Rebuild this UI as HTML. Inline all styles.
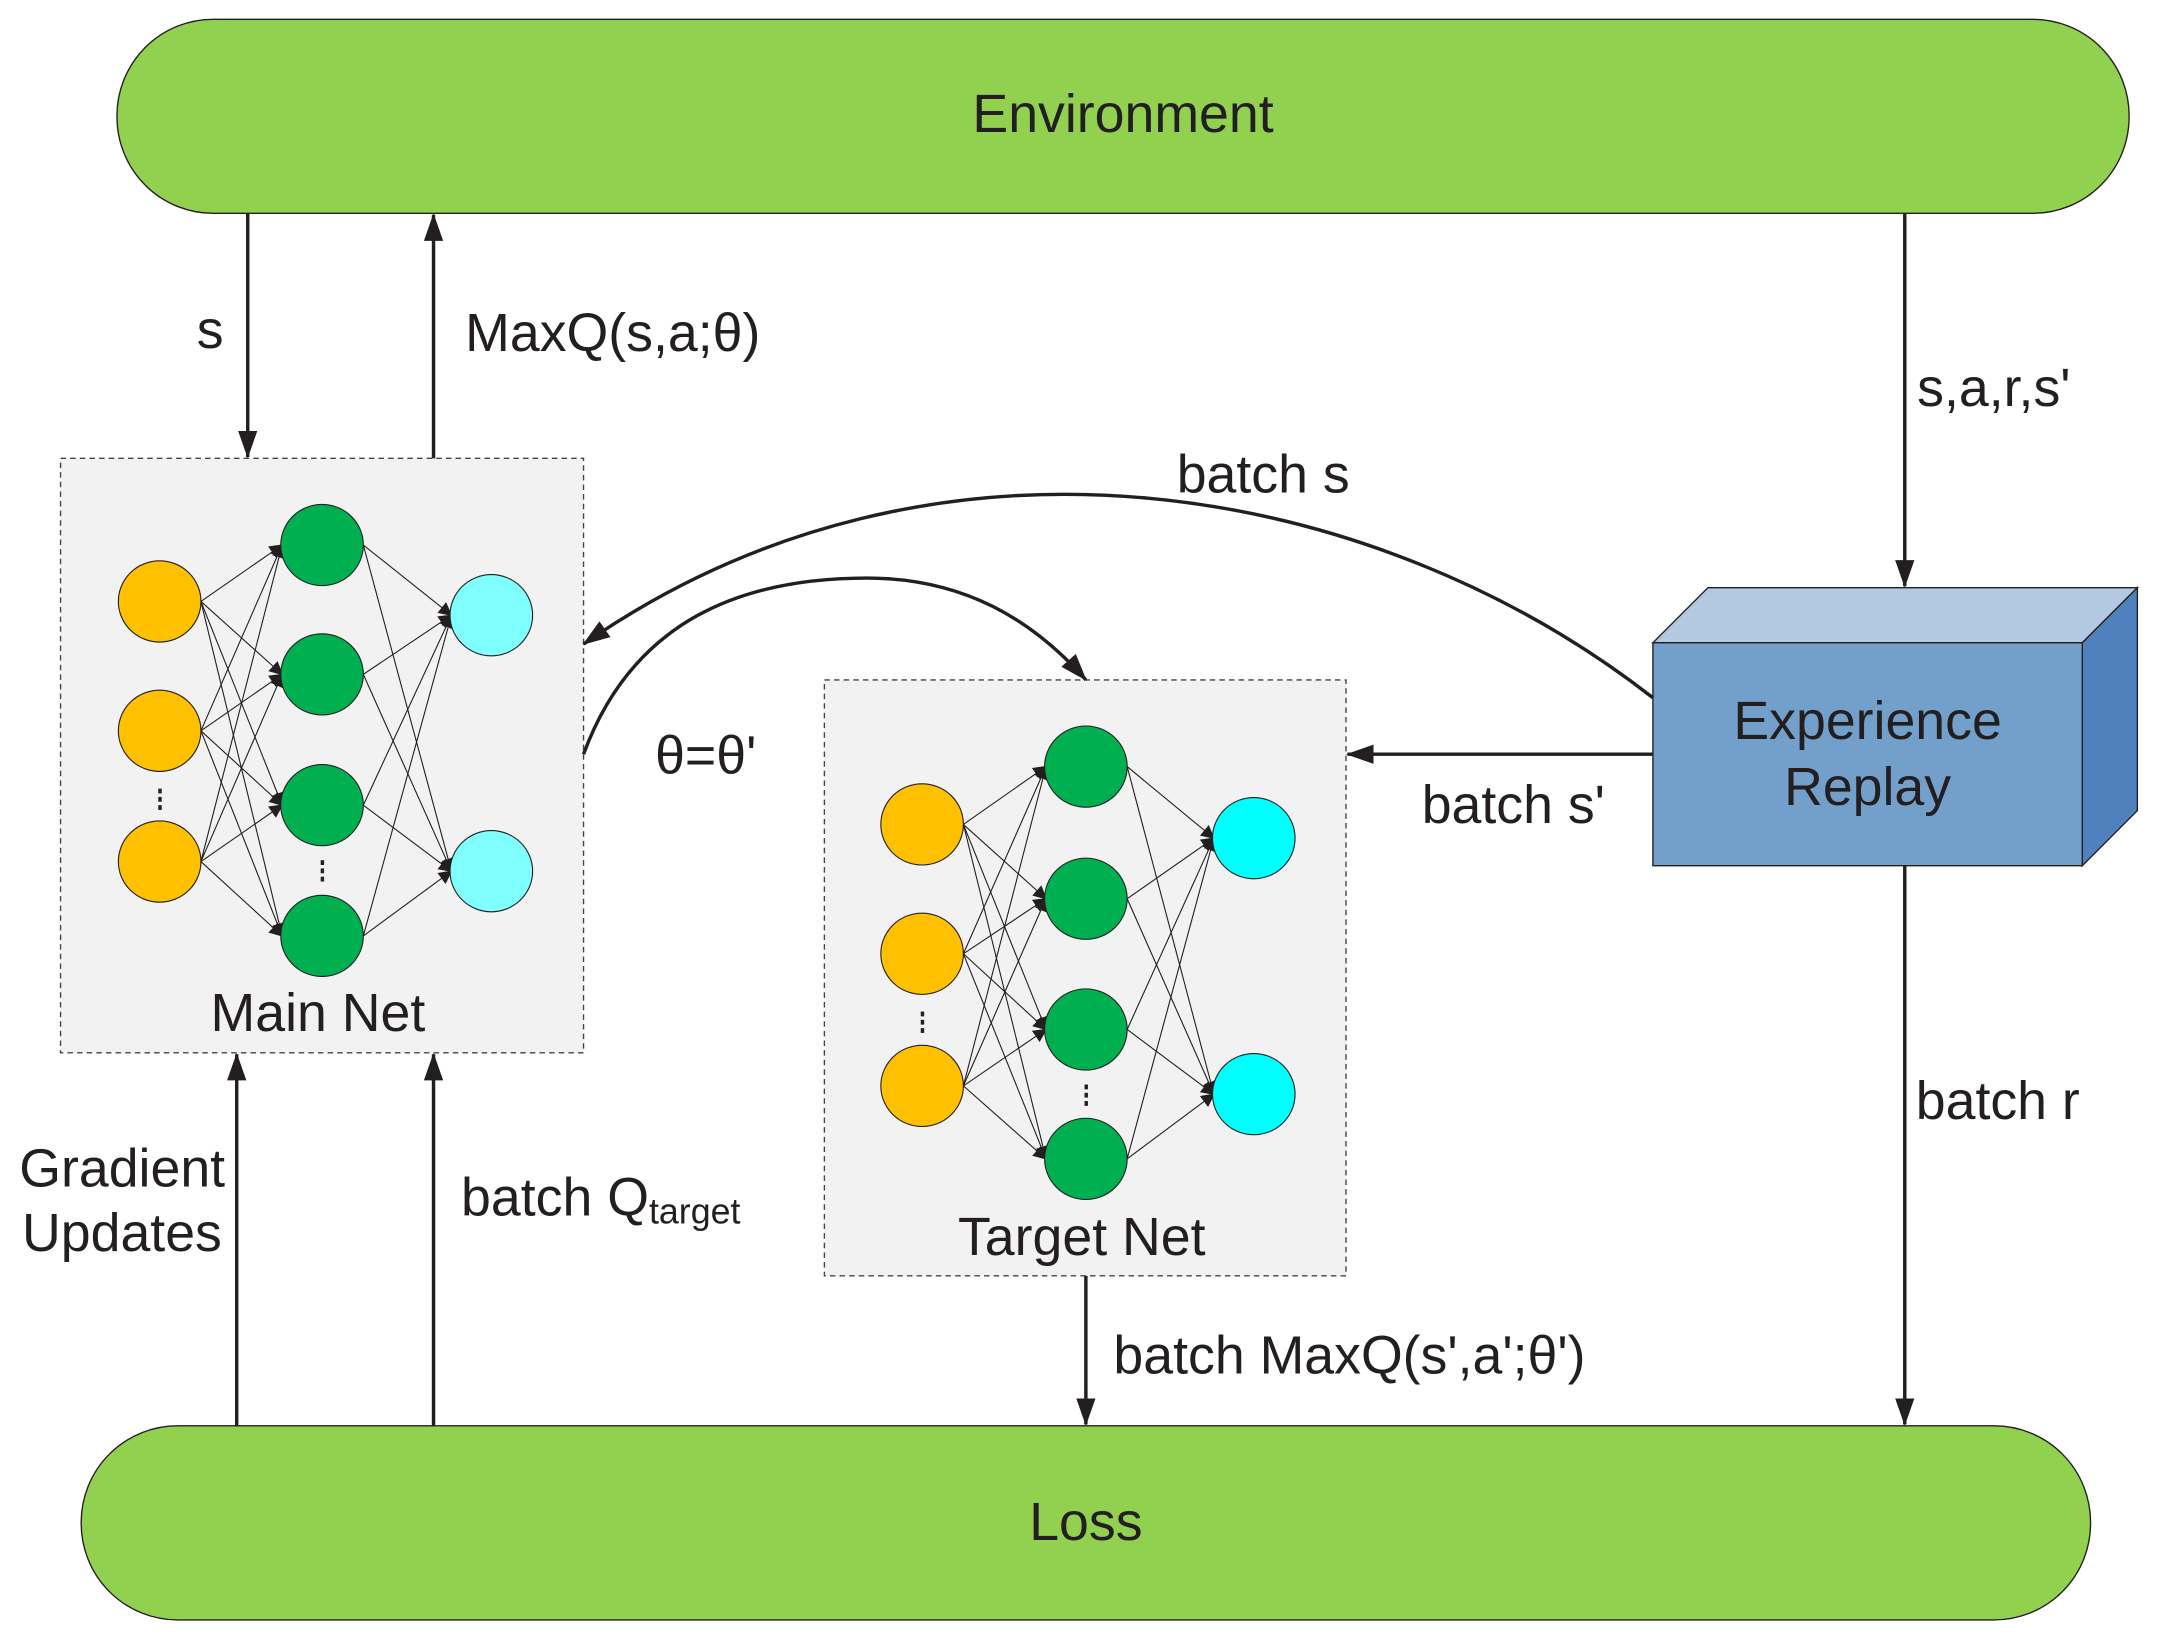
<!DOCTYPE html>
<html><head><meta charset="utf-8"><style>html,body{margin:0;padding:0;background:#fff}svg{display:block}text{font-family:"Liberation Sans",sans-serif;fill:#231f20}</style></head><body>
<svg width="2158" height="1640" viewBox="0 0 1568 1191.6" xmlns="http://www.w3.org/2000/svg">
<defs>
<marker id="a" markerWidth="10" markerHeight="10" refX="9" refY="5" orient="auto" markerUnits="userSpaceOnUse" viewBox="0 0 10 10"><path d="M0,0 L10,5 L0,10 z" fill="#231f20"/></marker>
<marker id="b" viewBox="0 0 20 16" markerWidth="20" markerHeight="16" refX="19" refY="8" orient="auto" markerUnits="userSpaceOnUse"><path d="M0,1 L20,8 L0,15 z" fill="#231f20"/></marker>
</defs>
<rect x="85" y="14" width="1462" height="141" rx="70" fill="#92d050" stroke="#231f20" stroke-width="1"/>
<text x="816" y="96" font-size="39" text-anchor="middle">Environment</text>
<rect x="59" y="1036" width="1460" height="141" rx="70" fill="#92d050" stroke="#231f20" stroke-width="1"/>
<text x="789" y="1119" font-size="39" text-anchor="middle">Loss</text>

<rect x="44" y="333" width="380" height="432" fill="#f2f2f2" stroke="#444" stroke-dasharray="4,3" stroke-width="1"/>
<rect x="599" y="494" width="379" height="433" fill="#f2f2f2" stroke="#444" stroke-dasharray="4,3" stroke-width="1"/>

<g stroke="#231f20" stroke-width="0.8" marker-end="url(#a)">
<line x1="146" y1="437" x2="205" y2="396"/><line x1="146" y1="437" x2="205" y2="490"/><line x1="146" y1="437" x2="205" y2="585"/><line x1="146" y1="437" x2="205" y2="680"/>
<line x1="146" y1="531" x2="205" y2="396"/><line x1="146" y1="531" x2="205" y2="490"/><line x1="146" y1="531" x2="205" y2="585"/><line x1="146" y1="531" x2="205" y2="680"/>
<line x1="146" y1="626" x2="205" y2="396"/><line x1="146" y1="626" x2="205" y2="490"/><line x1="146" y1="626" x2="205" y2="585"/><line x1="146" y1="626" x2="205" y2="680"/>
<line x1="264" y1="396" x2="328" y2="447"/><line x1="264" y1="396" x2="328" y2="633"/>
<line x1="264" y1="490" x2="328" y2="447"/><line x1="264" y1="490" x2="328" y2="633"/>
<line x1="264" y1="585" x2="328" y2="447"/><line x1="264" y1="585" x2="328" y2="633"/>
<line x1="264" y1="680" x2="328" y2="447"/><line x1="264" y1="680" x2="328" y2="633"/>
<line x1="700" y1="599" x2="760" y2="557"/><line x1="700" y1="599" x2="760" y2="653"/><line x1="700" y1="599" x2="760" y2="748"/><line x1="700" y1="599" x2="760" y2="842"/>
<line x1="700" y1="693" x2="760" y2="557"/><line x1="700" y1="693" x2="760" y2="653"/><line x1="700" y1="693" x2="760" y2="748"/><line x1="700" y1="693" x2="760" y2="842"/>
<line x1="700" y1="789" x2="760" y2="557"/><line x1="700" y1="789" x2="760" y2="653"/><line x1="700" y1="789" x2="760" y2="748"/><line x1="700" y1="789" x2="760" y2="842"/>
<line x1="819" y1="557" x2="882" y2="609"/><line x1="819" y1="557" x2="882" y2="795"/>
<line x1="819" y1="653" x2="882" y2="609"/><line x1="819" y1="653" x2="882" y2="795"/>
<line x1="819" y1="748" x2="882" y2="609"/><line x1="819" y1="748" x2="882" y2="795"/>
<line x1="819" y1="842" x2="882" y2="609"/><line x1="819" y1="842" x2="882" y2="795"/>
</g>
<g stroke="#231f20" stroke-width="0.8">
<ellipse cx="116" cy="437" rx="30" ry="29.5" fill="#ffc000"/><ellipse cx="116" cy="531" rx="30" ry="29.5" fill="#ffc000"/><ellipse cx="116" cy="626" rx="30" ry="29.5" fill="#ffc000"/>
<ellipse cx="234" cy="396" rx="30" ry="29.5" fill="#00b050"/><ellipse cx="234" cy="490" rx="30" ry="29.5" fill="#00b050"/><ellipse cx="234" cy="585" rx="30" ry="29.5" fill="#00b050"/><ellipse cx="234" cy="680" rx="30" ry="29.5" fill="#00b050"/>
<ellipse cx="357" cy="447" rx="30" ry="29.5" fill="#80ffff"/><ellipse cx="357" cy="633" rx="30" ry="29.5" fill="#80ffff"/>
<ellipse cx="670" cy="599" rx="30" ry="29.5" fill="#ffc000"/><ellipse cx="670" cy="693" rx="30" ry="29.5" fill="#ffc000"/><ellipse cx="670" cy="789" rx="30" ry="29.5" fill="#ffc000"/>
<ellipse cx="789" cy="557" rx="30" ry="29.5" fill="#00b050"/><ellipse cx="789" cy="653" rx="30" ry="29.5" fill="#00b050"/><ellipse cx="789" cy="748" rx="30" ry="29.5" fill="#00b050"/><ellipse cx="789" cy="842" rx="30" ry="29.5" fill="#00b050"/>
<ellipse cx="911" cy="609" rx="30" ry="29.5" fill="#00ffff"/><ellipse cx="911" cy="795" rx="30" ry="29.5" fill="#00ffff"/>
</g>
<g fill="#231f20">
<rect x="115" y="573" width="2.5" height="3.5"/><rect x="115" y="579" width="2.5" height="3.5"/><rect x="115" y="585" width="2.5" height="3.5"/>
<rect x="233" y="625" width="2.5" height="3.5"/><rect x="233" y="631" width="2.5" height="3.5"/><rect x="233" y="637" width="2.5" height="3.5"/>
<rect x="669" y="735" width="2.5" height="3.5"/><rect x="669" y="741" width="2.5" height="3.5"/><rect x="669" y="747" width="2.5" height="3.5"/>
<rect x="788" y="788" width="2.5" height="3.5"/><rect x="788" y="794" width="2.5" height="3.5"/><rect x="788" y="800" width="2.5" height="3.5"/>
</g>
<text x="231" y="749" font-size="39" text-anchor="middle">Main Net</text>
<text x="786" y="912" font-size="39" text-anchor="middle">Target Net</text>

<polygon points="1201,467 1241,427 1553,427 1513,467" fill="#b3c9e2" stroke="#231f20" stroke-width="1"/>
<polygon points="1513,467 1553,427 1553,589 1513,629" fill="#4f81bd" stroke="#231f20" stroke-width="1"/>
<rect x="1201" y="467" width="312" height="162" fill="#739fcb" stroke="#231f20" stroke-width="1"/>
<text x="1357" y="537" font-size="39" text-anchor="middle">Experience</text>
<text x="1357" y="585" font-size="39" text-anchor="middle">Replay</text>

<g stroke="#231f20" stroke-width="2.5" fill="none" marker-end="url(#b)">
<line x1="180" y1="155" x2="180" y2="332"/>
<line x1="315" y1="333" x2="315" y2="156"/>
<line x1="1384" y1="155" x2="1384" y2="426"/>
<line x1="1384" y1="629" x2="1384" y2="1035"/>
<line x1="1201" y1="548" x2="979" y2="548"/>
<line x1="789" y1="927" x2="789" y2="1035"/>
<line x1="172" y1="1036" x2="172" y2="766"/>
<line x1="315" y1="1036" x2="315" y2="766"/>
<path d="M1201,507 C1000,350 680,290 424,468"/>
<path d="M424,548 C460,450 540,420 630,420 C700,420 750,450 789,494"/>
</g>

<g font-size="39">
<text x="143" y="253">s</text>
<text x="338" y="255">MaxQ(s,a;θ)</text>
<text x="1393" y="295">s,a,r,s'</text>
<text x="855" y="358">batch s</text>
<text x="476" y="562">θ=θ'</text>
<text x="1033" y="598">batch s'</text>
<text x="1392" y="813">batch r</text>
<text x="14" y="862">Gradient</text>
<text x="16" y="909">Updates</text>
<text x="335" y="883">batch Q<tspan font-size="26" dy="6">target</tspan></text>
<text x="809" y="998">batch MaxQ(s',a';θ')</text>
</g>
</svg>
</body></html>
